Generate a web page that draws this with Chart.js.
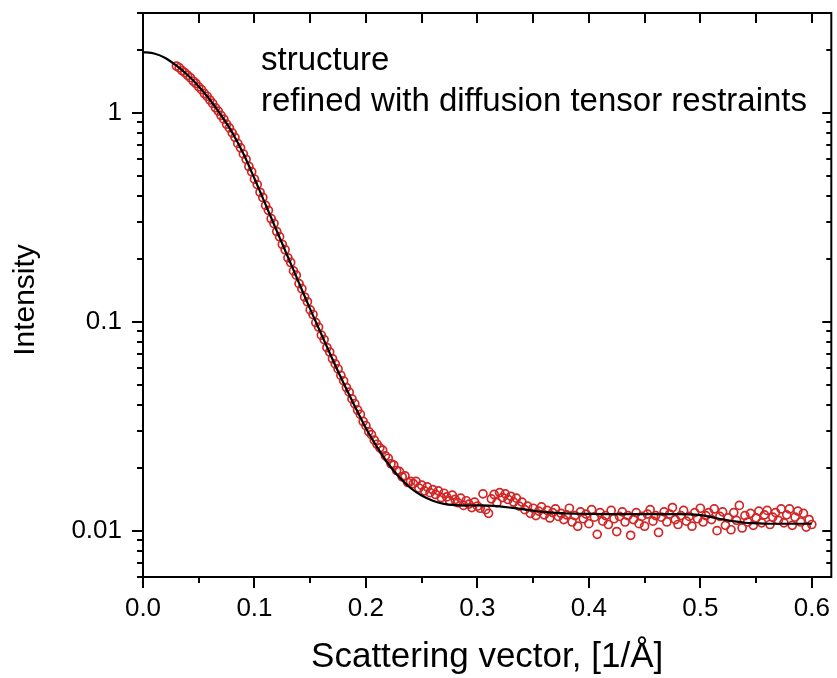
<!DOCTYPE html>
<html><head><meta charset="utf-8">
<script src="https://cdn.jsdelivr.net/npm/chart.js@4.4.1/dist/chart.umd.min.js"></script>
<style>html,body{margin:0;padding:0;background:#fff;}#wrap{width:837px;height:678px;}</style>
</head><body><div id="wrap"><canvas id="c" width="837" height="678"></canvas></div>
<script>
// ---- fitted curve (black line) ----
const fitQ = [0.00,0.01,0.02,0.03,0.04,0.05,0.06,0.07,0.08,0.09,
  0.10,0.11,0.12,0.13,0.14,0.15,0.16,0.17,0.18,0.19,
  0.20,0.21,0.22,0.23,0.24,0.25,0.26,0.27,0.28,0.29,
  0.30,0.31,0.32,0.33,0.34,0.35,0.36,0.37,0.38,
  0.40,0.42,0.44,0.46,0.48,0.50,0.51,0.52,0.53,0.54,0.55,0.56,0.58,0.60];
const fitI = [1.950,1.919,1.828,1.679,1.514,1.334,1.153,0.973,0.804,0.638,
  0.484,0.363,0.272,0.204,0.153,0.1148,0.0871,0.0661,0.0507,0.0394,
  0.0309,0.0251,0.0209,0.0180,0.0160,0.01472,0.01390,0.01343,0.01324,0.01318,
  0.01321,0.01318,0.01306,0.01288,0.01268,0.01245,0.01227,0.01216,0.01208,
  0.01202,0.01200,0.01199,0.01199,0.01199,0.01186,0.01161,0.01132,0.01109,0.01091,0.01084,0.01079,0.01079,0.01079];

// ---- measured data (red open circles) ----
const dataQ = [
  0.0300,0.0325,0.0350,0.0375,0.0400,0.0425,0.0450,0.0475,
  0.0500,0.0525,0.0550,0.0575,0.0600,0.0625,0.0650,0.0675,
  0.0700,0.0725,0.0750,0.0775,0.0800,0.0825,0.0850,0.0875,
  0.0900,0.0925,0.0950,0.0975,0.1000,0.1025,0.1050,0.1075,
  0.1100,0.1125,0.1150,0.1175,0.1200,0.1225,0.1250,0.1275,
  0.1300,0.1325,0.1350,0.1375,0.1400,0.1425,0.1450,0.1475,
  0.1500,0.1525,0.1550,0.1575,0.1600,0.1625,0.1650,0.1675,
  0.1700,0.1725,0.1750,0.1775,0.1800,0.1825,0.1850,0.1875,
  0.1900,0.1925,0.1950,0.1975,0.2000,0.2025,0.2050,0.2075,
  0.2100,0.2125,0.2150,0.2175,0.2200,0.2225,0.2250,0.2275,
  0.2300,0.2325,0.2350,0.2375,0.2400,0.2425,0.2450,0.2475,
  0.2500,0.2525,0.2550,0.2575,0.2600,0.2625,0.2650,0.2675,
  0.2700,0.2725,0.2750,0.2775,0.2800,0.2825,0.2850,0.2875,
  0.2900,0.2925,0.2950,0.2975,0.3000,0.3025,0.3050,0.3075,
  0.3100,0.3125,0.3150,0.3175,0.3200,0.3225,0.3250,0.3275,
  0.3300,0.3325,0.3350,0.3375,0.3400,0.3425,0.3450,0.3475,
  0.3500,0.3525,0.3550,0.3575,0.3600,0.3625,0.3650,0.3675,
  0.3700,0.3725,0.3750,0.3775,0.3800,0.3825,0.3850,0.3875,
  0.3900,0.3925,0.3950,0.3975,0.4000,0.4025,0.4050,0.4075,
  0.4100,0.4125,0.4150,0.4175,0.4200,0.4225,0.4250,0.4275,
  0.4300,0.4325,0.4350,0.4375,0.4400,0.4425,0.4450,0.4475,
  0.4500,0.4525,0.4550,0.4575,0.4600,0.4625,0.4650,0.4675,
  0.4700,0.4725,0.4750,0.4775,0.4800,0.4825,0.4850,0.4875,
  0.4900,0.4925,0.4950,0.4975,0.5000,0.5025,0.5050,0.5075,
  0.5100,0.5125,0.5150,0.5175,0.5200,0.5225,0.5250,0.5275,
  0.5300,0.5325,0.5350,0.5375,0.5400,0.5425,0.5450,0.5475,
  0.5500,0.5525,0.5550,0.5575,0.5600,0.5625,0.5650,0.5675,
  0.5700,0.5725,0.5750,0.5775,0.5800,0.5825,0.5850,0.5875,
  0.5900,0.5925,0.5950,0.5975,0.6000];
const dataI = [
  1.672,1.641,1.590,1.556,1.510,1.470,1.418,1.380,
  1.330,1.289,1.236,1.199,1.150,1.108,1.055,1.018,
  0.970,0.931,0.881,0.846,0.801,0.762,0.713,0.679,
  0.635,0.598,0.553,0.522,0.481,0.453,0.416,0.393,
  0.360,0.341,0.311,0.295,0.270,0.255,0.234,0.221,
  0.202,0.192,0.175,0.167,0.152,0.1438,0.1312,0.1245,
  0.1138,0.1082,0.0990,0.0942,0.0862,0.0821,0.0752,0.0716,
  0.0665,0.0628,0.0594,0.0553,0.0521,0.0484,0.0460,0.0427,
  0.0405,0.0378,0.0360,0.0333,0.0318,0.0298,0.0288,0.0271,
  0.0259,0.0249,0.0243,0.0228,0.0222,0.0209,0.0206,0.0194,
  0.0192,0.0181,0.0183,0.0170,0.0172,0.0168,0.0172,0.0160,
  0.0165,0.0155,0.0162,0.0152,0.0157,0.0149,0.0155,0.0144,
  0.0151,0.0145,0.0139,0.0148,0.0141,0.0136,0.0143,0.0132,
  0.0139,0.0134,0.0129,0.0137,0.0131,0.0128,0.0150,0.0126,
  0.0121,0.0142,0.0149,0.0136,0.0152,0.0144,0.0150,0.0141,
  0.0146,0.0137,0.0143,0.0131,0.0137,0.0126,0.0131,0.0121,
  0.0128,0.0118,0.0124,0.0130,0.0119,0.0125,0.0115,0.0122,
  0.0127,0.0117,0.0121,0.0113,0.0119,0.0128,0.0110,0.0118,
  0.0105,0.0123,0.0114,0.0120,0.0108,0.0126,0.0116,0.0096,
  0.0122,0.0111,0.0118,0.0107,0.0125,0.0114,0.0099,0.0117,
  0.0123,0.0110,0.0118,0.0095,0.0113,0.0122,0.0108,0.0117,
  0.0105,0.0120,0.0126,0.0111,0.0118,0.0098,0.0116,0.0123,
  0.0110,0.0120,0.0129,0.0113,0.0107,0.0118,0.0125,0.0111,
  0.0117,0.0105,0.0122,0.0114,0.0128,0.0110,0.0118,0.0122,
  0.0113,0.0127,0.0100,0.0117,0.0123,0.0106,0.0115,0.0101,
  0.0122,0.0112,0.0132,0.0103,0.0118,0.0110,0.0121,0.0106,
  0.0115,0.0124,0.0109,0.0119,0.0125,0.0107,0.0116,0.0122,
  0.0112,0.0127,0.0109,0.0119,0.0127,0.0106,0.0116,0.0124,
  0.0110,0.0121,0.0104,0.0113,0.0107];

// ---- axes / ticks / texts ----
const xMajorTicks = [0, 0.1, 0.2, 0.3, 0.4, 0.5, 0.6];
const xTickLabels = ['0.0','0.1','0.2','0.3','0.4','0.5','0.6'];
const xMinorTicks = [0.05, 0.15, 0.25, 0.35, 0.45, 0.55];
const yMajorTicks = [0.01, 0.1, 1];
const yTickLabels = ['0.01','0.1','1'];
const yMinorTicks = [0.006,0.007,0.008,0.009,0.02,0.03,0.04,0.05,0.06,0.07,0.08,0.09,
  0.2,0.3,0.4,0.5,0.6,0.7,0.8,0.9,2,3];
const xTitle = 'Scattering vector, [1/Å]';
const yTitle = 'Intensity';
const noteLines = ['structure', 'refined with diffusion tensor restraints'];

const FONT = '"Liberation Sans", Arial, Helvetica, sans-serif';
Chart.defaults.font.family = FONT;
Chart.defaults.color = '#000';

function zeroPad(s) { s.paddingTop = 0; s.paddingBottom = 0; s.paddingLeft = 0; s.paddingRight = 0; }

const framePlugin = {
  id: 'frame',
  afterDraw(chart) {
    const ctx = chart.ctx;
    const {left, right, top, bottom} = chart.chartArea;
    const xs = chart.scales.x, ys = chart.scales.y;
    ctx.save();
    ctx.strokeStyle = '#000';
    ctx.lineWidth = 2;
    ctx.lineCap = 'butt';
    ctx.beginPath();
    xMajorTicks.forEach(v => {
      const p = Math.round(xs.getPixelForValue(v));
      ctx.moveTo(p, bottom); ctx.lineTo(p, bottom + 11);
      ctx.moveTo(p, top); ctx.lineTo(p, top + 10);
    });
    xMinorTicks.forEach(v => {
      const p = Math.round(xs.getPixelForValue(v));
      ctx.moveTo(p, bottom); ctx.lineTo(p, bottom + 6);
      ctx.moveTo(p, top); ctx.lineTo(p, top + 10);
    });
    yMajorTicks.forEach(v => {
      const p = Math.round(ys.getPixelForValue(v));
      ctx.moveTo(left, p); ctx.lineTo(left - 11, p);
      ctx.moveTo(right, p); ctx.lineTo(right - 9, p);
    });
    yMinorTicks.forEach(v => {
      const p = Math.round(ys.getPixelForValue(v));
      ctx.moveTo(left, p); ctx.lineTo(left - 6, p);
      ctx.moveTo(right, p); ctx.lineTo(right - 5, p);
    });
    ctx.stroke();
    ctx.strokeRect(left, top, right - left, bottom - top);
    ctx.fillStyle = '#000';
    ctx.font = '33px ' + FONT;
    ctx.textAlign = 'left';
    ctx.textBaseline = 'alphabetic';
    ctx.fillText(noteLines[0], 261, 70);
    ctx.fillText(noteLines[1], 261, 111);
    // y axis title
    ctx.save();
    ctx.translate(26, 300);
    ctx.rotate(-Math.PI / 2);
    ctx.font = '30px ' + FONT;
    ctx.textAlign = 'center';
    ctx.textBaseline = 'middle';
    ctx.fillText(yTitle, 0, 0);
    ctx.restore();
    ctx.restore();
  }
};

new Chart(document.getElementById('c'), {
  type: 'scatter',
  data: {
    datasets: [
      {
        type: 'line',
        data: fitQ.map((q, i) => ({x: q, y: fitI[i]})),
        borderColor: '#000',
        borderWidth: 2.2,
        pointRadius: 0,
        cubicInterpolationMode: 'monotone',
        fill: false,
        order: 0
      },
      {
        type: 'scatter',
        data: dataQ.map((q, i) => ({x: q, y: dataI[i]})),
        pointStyle: 'circle',
        pointRadius: 4,
        borderWidth: 1.7,
        borderColor: 'rgb(210,38,38)',
        backgroundColor: 'rgba(255,255,255,0)',
        order: 1
      }
    ]
  },
  options: {
    responsive: false,
    animation: false,
    devicePixelRatio: 1,
    layout: {padding: {top: 13, right: 5, left: 0, bottom: 0}},
    plugins: {legend: {display: false}, tooltip: {enabled: false}},
    scales: {
      x: {
        type: 'linear', position: 'bottom', min: 0, max: 0.6175,
        afterFit(s) { s.height = 101; zeroPad(s); },
        afterBuildTicks(s) { s.ticks = xMajorTicks.map(v => ({value: v})); },
        ticks: {
          autoSkip: false, maxRotation: 0, padding: 16, color: '#000',
          font: {size: 26},
          callback: (v, i) => xTickLabels[i]
        },
        grid: {display: false, drawTicks: false},
        border: {display: false},
        title: {display: true, text: xTitle, color: '#000', font: {size: 35}, padding: {top: 0, bottom: 0}}
      },
      y: {
        type: 'logarithmic', position: 'left', min: 0.006, max: 3,
        afterFit(s) { s.width = 143; zeroPad(s); },
        afterBuildTicks(s) { s.ticks = yMajorTicks.map(v => ({value: v})); },
        ticks: {
          autoSkip: false, padding: 21, color: '#000',
          font: {size: 26},
          callback: (v, i) => yTickLabels[i]
        },
        grid: {display: false, drawTicks: false},
        border: {display: false},
        title: {display: false}
      }
    }
  },
  plugins: [framePlugin]
});
</script>
</body></html>
